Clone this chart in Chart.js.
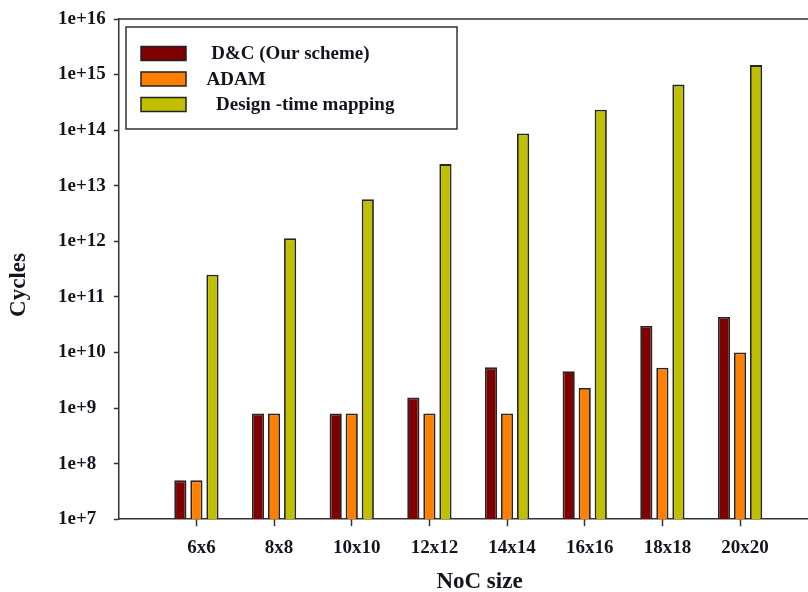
<!DOCTYPE html>
<html>
<head>
<meta charset="utf-8">
<script src="https://cdn.jsdelivr.net/npm/chart.js@4.4.1/dist/chart.umd.min.js"></script>
<style>
  html, body { margin: 0; padding: 0; background: #fff; overflow: hidden; }
  #wrap { width: 808px; height: 592px; position: relative; }
</style>
</head>
<body>
<div id="wrap"><canvas id="c"></canvas></div>
<script>
// NoC mesh sizes (x positions) and their tick labels
const nocSizes = [6, 8, 10, 12, 14, 16, 18, 20];
const nocLabels = ['6x6', '8x8', '10x10', '12x12', '14x14', '16x16', '18x18', '20x20'];

// Mapping cost in cycles for each scheme
const dcCycles = [5.0e7, 8.0e8, 8.0e8, 1.55e9, 5.4e9, 4.6e9, 3.0e10, 4.35e10];
const adamCycles = [5.0e7, 8.0e8, 8.0e8, 8.0e8, 8.0e8, 2.3e9, 5.3e9, 1.0e10];
const designTimeCycles = [2.5e11, 1.13e12, 5.7e12, 2.45e13, 8.7e13, 2.34e14, 6.6e14, 1.48e15];

// Decade ticks on the log axis
const yTickValues = [1e7, 1e8, 1e9, 1e10, 1e11, 1e12, 1e13, 1e14, 1e15, 1e16];
const yTickLabels = ['1e+7', '1e+8', '1e+9', '1e+10', '1e+11', '1e+12', '1e+13', '1e+14', '1e+15', '1e+16'];

const seriesNames = [' D&C (Our scheme)', 'ADAM', '  Design -time mapping'];
const seriesColors = ['#7f0000', '#ff8000', '#c0c000'];

const SERIF = "'Liberation Serif', 'Times New Roman', serif";
const INK = '#141420';
const LINE = '#333333';

const toPoints = vals => nocSizes.map((s, i) => ({ x: s, y: vals[i] }));

// Boxed legend in the upper-left of the plot, plus axis titles and top frame line
const decorations = {
  id: 'decorations',
  afterDraw(chart) {
    const ctx = chart.ctx;
    const a = chart.chartArea;
    ctx.save();

    // top frame line
    ctx.strokeStyle = LINE;
    ctx.lineWidth = 1.5;
    ctx.beginPath();
    ctx.moveTo(a.left, a.top);
    ctx.lineTo(a.right, a.top);
    ctx.stroke();

    // legend box
    const bx = 126, by = 27, bw = 331, bh = 102;
    ctx.fillStyle = '#fff';
    ctx.fillRect(bx, by, bw, bh);
    ctx.strokeRect(bx, by, bw, bh);

    ctx.font = 'bold 19px ' + SERIF;
    ctx.textBaseline = 'middle';
    ctx.textAlign = 'left';
    chart.data.datasets.forEach((ds, i) => {
      const cy = 53.5 + i * 25.5;
      ctx.fillStyle = ds.backgroundColor;
      ctx.fillRect(141, cy - 7, 45, 14);
      ctx.strokeStyle = '#222';
      ctx.lineWidth = 1.5;
      ctx.strokeRect(141, cy - 7, 45, 14);
      ctx.fillStyle = INK;
      ctx.fillText(ds.label, 206.5, cy + 1);
    });

    // axis titles
    ctx.font = 'bold 23px ' + SERIF;
    ctx.fillStyle = INK;
    ctx.textAlign = 'center';
    ctx.textBaseline = 'middle';
    ctx.fillText('NoC size', 479.5, 582);
    ctx.translate(19.5, 285);
    ctx.rotate(-Math.PI / 2);
    ctx.fillText('Cycles', 0, 0);
    ctx.restore();
  }
};

new Chart(document.getElementById('c'), {
  type: 'bar',
  data: {
    datasets: [
      { label: seriesNames[0], data: toPoints(dcCycles), backgroundColor: seriesColors[0] },
      { label: seriesNames[1], data: toPoints(adamCycles), backgroundColor: seriesColors[1] },
      { label: seriesNames[2], data: toPoints(designTimeCycles), backgroundColor: seriesColors[2] }
    ]
  },
  options: {
    responsive: true,
    maintainAspectRatio: false,
    animation: false,
    layout: { padding: { left: 58, top: 19, right: 0, bottom: 23 } },
    datasets: {
      bar: {
        borderColor: '#262626',
        borderWidth: 1.8,
        categoryPercentage: 0.62,
        barPercentage: 0.76
      }
    },
    plugins: {
      legend: { display: false },
      tooltip: { enabled: false }
    },
    scales: {
      x: {
        type: 'linear',
        offset: false,
        min: 4,
        max: 21.75,
        afterBuildTicks: scale => { scale.ticks = nocSizes.map(v => ({ value: v })); },
        ticks: {
          callback: v => nocLabels[nocSizes.indexOf(v)],
          font: { family: SERIF, size: 19, weight: 'bold' },
          color: INK,
          padding: 10,
          labelOffset: 5,
          maxRotation: 0,
          autoSkip: false
        },
        grid: { offset: false, drawOnChartArea: false, drawTicks: true, tickLength: 7, tickColor: LINE, tickWidth: 1.5 },
        border: { display: true, color: LINE, width: 1.5 }
      },
      y: {
        type: 'logarithmic',
        min: 1e7,
        max: 1e16,
        afterBuildTicks: scale => { scale.ticks = yTickValues.map(v => ({ value: v })); },
        ticks: {
          callback: v => yTickLabels[yTickValues.indexOf(v)],
          font: { family: SERIF, size: 19, weight: 'bold' },
          color: INK,
          padding: 4,
          crossAlign: 'far',
          autoSkip: false
        },
        grid: { drawOnChartArea: false, drawTicks: true, tickLength: 5, tickColor: LINE, tickWidth: 1.5 },
        border: { display: true, color: LINE, width: 1.5 }
      }
    }
  },
  plugins: [decorations]
});
</script>
</body>
</html>
